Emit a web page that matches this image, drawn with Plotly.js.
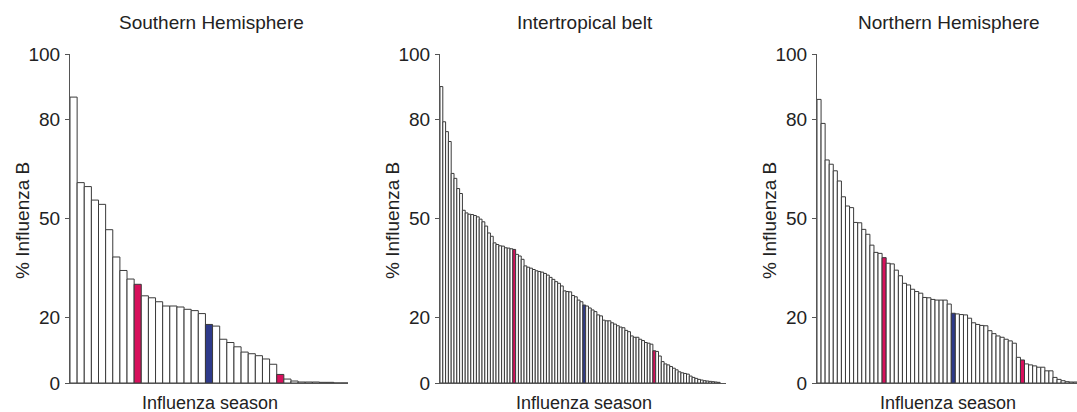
<!DOCTYPE html>
<html>
<head>
<meta charset="utf-8">
<script src="https://cdn.plot.ly/plotly-3.0.1.min.js"></script>
<style>html,body{margin:0;padding:0;background:#fff;}#chart{width:1077px;height:412px;}</style>
</head>
<body>
<div id="chart"></div>
<script>
// ---- Data (percentage of influenza B per season, sorted descending) ----
var panelTitles = ["Southern Hemisphere", "Intertropical belt", "Northern Hemisphere"];
var xTitle = "Influenza season";
var yTitle = "% Influenza B";
var yTickVals = [0, 20, 50, 80, 100];
var yTickText = ["0", "20", "50", "80", "100"];

var southern = [86.9, 60.9, 59.7, 55.6, 54.3, 46.6, 38.3, 34.2, 31.6, 30.0,
  26.5, 25.9, 24.7, 23.4, 23.4, 23.1, 22.4, 22.0, 21.1, 17.8,
  17.3, 13.3, 12.3, 11.0, 9.4, 8.9, 8.3, 7.3, 5.7, 2.6,
  1.2, 0.6, 0.3, 0.3, 0.3, 0.2, 0.2, 0, 0];
var southernRed = [9, 29];
var southernBlue = [19];

var intertropical = [90.1, 79.4, 76.4, 73.4, 63.7, 62.2, 59.1, 57.6, 52.5, 51.7,
  51.3, 51.2, 50.9, 50.5, 49.8, 49.0, 47.7, 45.6, 44.6, 42.6,
  42.1, 41.7, 41.6, 41.1, 41.0, 40.8, 40.6, 39.1, 38.6, 37.6,
  35.6, 35.2, 34.9, 34.5, 34.1, 33.9, 33.7, 33.3, 32.8, 32.1,
  31.5, 30.8, 30.3, 29.5, 28.0, 27.8, 27.7, 26.6, 26.2, 25.2,
  24.7, 23.7, 23.4, 22.8, 22.2, 21.7, 20.7, 20.4, 19.1, 18.9,
  18.9, 18.3, 17.9, 17.4, 17.0, 16.8, 16.0, 15.6, 14.3, 13.9,
  13.9, 13.3, 12.9, 12.3, 12.1, 11.8, 9.8, 9.6, 8.2, 6.5,
  5.8, 5.5, 5.0, 4.5, 4.0, 3.4, 3.1, 2.9, 2.7, 2.1,
  1.7, 1.4, 1.1, 0.9, 0.7, 0.6, 0.5, 0.4, 0.3, 0.2];
var intertropicalRed = [26, 76];
var intertropicalBlue = [51];

var northern = [86.2, 78.9, 67.8, 66.5, 64.5, 61.4, 56.6, 53.8, 53.3, 48.8,
  48.7, 46.7, 45.2, 41.9, 39.7, 39.4, 38.1, 36.4, 36.2, 34.3,
  32.6, 30.3, 29.8, 28.5, 27.8, 27.3, 26.0, 25.9, 25.4, 25.2,
  25.2, 25.2, 24.0, 21.2, 21.0, 20.8, 20.7, 19.7, 18.3, 17.8,
  17.5, 17.4, 15.9, 15.0, 14.3, 13.9, 13.3, 12.8, 12.1, 7.8,
  7.0, 5.8, 5.5, 5.2, 4.8, 4.8, 3.7, 3.7, 1.7, 1.1,
  0.7, 0.4, 0.3, 0.3];
var northernRed = [16, 50];
var northernBlue = [33];

// ---- Styling ----
var W = 1077, H = 412;
var RED = "#d7105c", BLUE = "#2e3a8a", WHITE = "#ffffff";
var OUTLINE = "#3a3a3a", AXIS = "#555555", TXT = "#222222";
var FONT = "Liberation Sans, Arial, sans-serif";

function px(x) { return x / W; }
function py(y) { return (H - y) / H; }

var panels = [
  {vals: southern, red: southernRed, blue: southernBlue, x0: 70, x1: 348, xmax: 38.5},
  {vals: intertropical, red: intertropicalRed, blue: intertropicalBlue, x0: 440, x1: 726, xmax: 101.6},
  {vals: northern, red: northernRed, blue: northernBlue, x0: 817, x1: 1077, xmax: 63.4}
];

var yBottom = 383, yTop = 54;
var traces = [];
var layout = {
  width: W, height: H,
  margin: {l: 0, r: 0, t: 0, b: 0},
  paper_bgcolor: "#fff", plot_bgcolor: "#fff",
  showlegend: false,
  bargap: 0,
  font: {family: FONT, color: TXT, size: 18},
  annotations: []
};

panels.forEach(function (p, k) {
  var n = p.vals.length;
  var xs = [], colors = [];
  for (var i = 0; i < n; i++) {
    xs.push(i);
    var c = WHITE;
    if (p.red.indexOf(i) >= 0) c = RED;
    if (p.blue.indexOf(i) >= 0) c = BLUE;
    colors.push(c);
  }
  var sfx = k === 0 ? "" : String(k + 1);
  traces.push({
    type: "bar", x: xs, y: p.vals,
    xaxis: "x" + sfx, yaxis: "y" + sfx,
    marker: {color: colors, line: {color: OUTLINE, width: 1}},
    width: 1, hoverinfo: "skip"
  });
  layout["xaxis" + sfx] = {
    domain: [px(p.x0), px(p.x1)], anchor: "y" + sfx,
    range: [-0.5, p.xmax], showgrid: false, zeroline: false,
    showline: true, linecolor: AXIS, linewidth: 1,
    ticks: "", showticklabels: false, fixedrange: true
  };
  layout["yaxis" + sfx] = {
    domain: [py(yBottom), py(yTop)], anchor: "x" + sfx,
    range: [0, 100], showgrid: false, zeroline: false,
    showline: true, linecolor: AXIS, linewidth: 1,
    ticks: "outside", ticklen: 4, tickcolor: AXIS, tickwidth: 1,
    tickvals: yTickVals, ticktext: yTickText,
    tickfont: {family: FONT, size: 19, color: TXT}, ticklabelstandoff: 1,
    fixedrange: true
  };
  var cx = (p.x0 + p.x1) / 2;
  layout.annotations.push({
    text: panelTitles[k], xref: "paper", yref: "paper",
    x: px(cx + 2), y: py(23), xanchor: "center", yanchor: "middle",
    showarrow: false, font: {family: FONT, size: 19, color: TXT}
  });
  layout.annotations.push({
    text: xTitle, xref: "paper", yref: "paper",
    x: px(cx + 1), y: py(403), xanchor: "center", yanchor: "middle",
    showarrow: false, font: {family: FONT, size: 18, color: TXT}
  });
  layout.annotations.push({
    text: yTitle, xref: "paper", yref: "paper",
    x: px(p.x0 - 48), y: py(221), xanchor: "center", yanchor: "middle",
    textangle: -90, showarrow: false, font: {family: FONT, size: 19, color: TXT}
  });
});

Plotly.newPlot("chart", traces, layout, {staticPlot: true, displayModeBar: false});
</script>
</body>
</html>
